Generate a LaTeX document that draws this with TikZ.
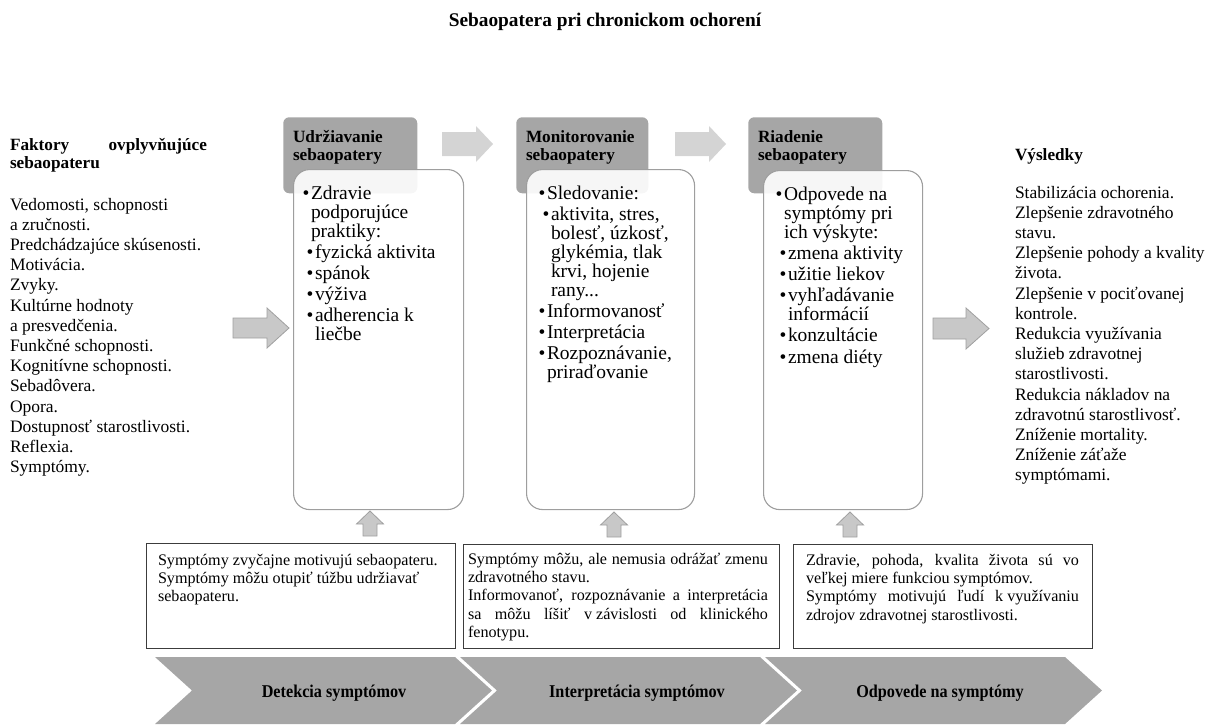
\documentclass[tikz,border=0pt]{standalone}
\usepackage{fontspec}
\setmainfont{Liberation Serif}
\usetikzlibrary{calc}
\newdimen\px \px=0.75pt
\definecolor{hdrgray}{RGB}{166,166,166}
\definecolor{chevgray}{RGB}{166,166,166}
\definecolor{cardline}{RGB}{158,158,158}
\definecolor{arrowfill}{RGB}{200,200,200}
\definecolor{arrowline}{RGB}{160,160,160}
\definecolor{lightarrow}{RGB}{212,212,212}
\definecolor{noteline}{RGB}{60,60,60}

% text sizes (1px = 0.75pt)
\newcommand\fcol{\fontsize{13.1}{15.15}\selectfont\lineskiplimit=-50pt}
\newcommand\fhd{\fontsize{12.9}{13.8}\selectfont\bfseries\lineskiplimit=-50pt}
\newcommand\fcard{\fontsize{14.6}{14.25}\selectfont\lineskiplimit=-50pt\parskip=2.2\px}
\newcommand\fnote{\fontsize{12.1}{13.8}\selectfont\lineskiplimit=-50pt}
% bullet levels inside the cards
\newcommand\lvA[1]{\par\leftskip=0pt\noindent\llap{•\hspace{1.5\px}}#1}
\newcommand\lvB[1]{\par\leftskip=4\px\noindent\llap{•\hspace{1.5\px}}#1}

\tikzset{
  txt/.style={anchor=base west, inner sep=0pt, outer sep=0pt},
  hdrbox/.style={fill=hdrgray, rounded corners=6\px, anchor=north west, inner sep=0pt},
  card/.style={draw=cardline, line width=1.1\px, fill=white, fill opacity=0.9,
               rounded corners=16\px, anchor=north west, inner sep=0pt},
  notebox/.style={draw=noteline, line width=1.1\px, anchor=north west, inner sep=0pt},
  bigarrow/.style={fill=arrowfill, draw=arrowline, line width=0.8\px},
  steparrow/.style={fill=lightarrow},
  uparrow/.style={fill=arrowfill, draw=arrowline, line width=0.8\px},
  chev/.style={fill=chevgray},
  chevtext/.style={anchor=base, inner sep=0pt, font=\fontsize{13.5}{15}\selectfont\bfseries}
}

\begin{document}
\begin{tikzpicture}[x=0.75pt, y=-0.75pt]
\useasboundingbox (0,0) rectangle (1206,726);

% title
\node[anchor=base, inner sep=0pt, font=\fontsize{14.5}{16}\selectfont\bfseries] (title) at (605,26)
  {Sebaopatera pri chronickom ochorení};

% influencing factors
\node[txt] (facthd) at (10,150) {\parbox[t]{197\px}{\fhd Faktory\hfill ovplyvňujúce\\ sebaopateru}};
\node[txt] (factors) at (10,210) {\parbox[t]{220\px}{\fcol
  Vedomosti, schopnosti\\ a zručnosti.\\ Predchádzajúce skúsenosti.\\ Motivácia.\\ Zvyky.\\
  Kultúrne hodnoty\\ a presvedčenia.\\ Funkčné schopnosti.\\ Kognitívne schopnosti.\\
  Sebadôvera.\\ Opora.\\ Dostupnosť starostlivosti.\\ Reflexia.\\ Symptómy.}};

% outcomes
\node[txt] (outhd) at (1015,160) {\parbox[t]{180\px}{\fhd Výsledky}};
\node[txt] (outcomes) at (1015,198) {\parbox[t]{190\px}{\fcol
  Stabilizácia ochorenia.\\ Zlepšenie zdravotného\\ stavu.\\ Zlepšenie pohody a kvality\\
  života.\\ Zlepšenie v pociťovanej\\ kontrole.\\ Redukcia využívania\\ služieb zdravotnej\\
  starostlivosti.\\ Redukcia nákladov na\\ zdravotnú starostlivosť.\\ Zníženie mortality.\\
  Zníženie záťaže\\ symptómami.}};

% header tabs
\node[hdrbox, minimum width=134\px, minimum height=76\px] (h1) at (283,117) {};
\node[hdrbox, minimum width=132\px, minimum height=76\px] (h2) at (516,117) {};
\node[hdrbox, minimum width=134\px, minimum height=76\px] (h3) at (748,117) {};

% cards
\node[card, minimum width=170\px, minimum height=340\px] (c1) at (293,169) {};
\node[card, minimum width=168\px, minimum height=340\px] (c2) at (526,169) {};
\node[card, minimum width=159\px, minimum height=339\px] (c3) at (763,170) {};

% header texts
\node[txt] (h1t) at (293,142) {\parbox[t]{130\px}{\fhd Udržiavanie\\ sebaopatery}};
\node[txt] (h2t) at (526,142) {\parbox[t]{130\px}{\fhd Monitorovanie\\ sebaopatery}};
\node[txt] (h3t) at (758,142) {\parbox[t]{130\px}{\fhd Riadenie\\ sebaopatery}};

% card texts
\node[txt] (c1t) at (311,199) {\parbox[t]{150\px}{\fcard
  \lvA{Zdravie\\ podporujúce\\ praktiky:}
  \lvB{fyzická aktivita}
  \lvB{spánok}
  \lvB{výživa}
  \lvB{adherencia k\\ liečbe}}};
\node[txt] (c2t) at (547,199) {\parbox[t]{150\px}{\fcard
  \lvA{Sledovanie:}
  \lvB{aktivita, stres,\\ bolesť, úzkosť,\\ glykémia, tlak\\ krvi, hojenie\\ rany...}
  \lvA{Informovanosť}
  \lvA{Interpretácia}
  \lvA{Rozpoznávanie,\\ priraďovanie}}};
\node[txt] (c3t) at (784,200) {\parbox[t]{150\px}{\fcard
  \lvA{Odpovede na\\ symptómy pri\\ ich výskyte:}
  \lvB{zmena aktivity}
  \lvB{užitie liekov}
  \lvB{vyhľadávanie\\ informácií}
  \lvB{konzultácie}
  \lvB{zmena diéty}}};

% arrows between the header tabs
\fill[steparrow] (442,132) -- (476,132) -- (476,126) -- (493,144) -- (476,162) -- (476,156) -- (442,156) -- cycle;
\fill[steparrow] (675,132) -- (709,132) -- (709,126) -- (726,144) -- (709,162) -- (709,156) -- (675,156) -- cycle;

% factors -> cards, cards -> outcomes
\draw[bigarrow] (233,318) -- (267,318) -- (267,308) -- (289,328) -- (267,348) -- (267,338) -- (233,338) -- cycle;
\draw[bigarrow] (933,318) -- (966,318) -- (966,308) -- (989,328.5) -- (966,349) -- (966,339) -- (933,339) -- cycle;

% notes below the cards
\node[notebox, minimum width=309\px, minimum height=105\px] (n1) at (146,543) {};
\node[notebox, minimum width=316\px, minimum height=104\px] (n2) at (463,544) {};
\node[notebox, minimum width=299\px, minimum height=104\px] (n3) at (793,544) {};

\node[txt] (n1t) at (158,565) {\parbox[t]{290\px}{\fnote
  Symptómy zvyčajne motivujú sebaopateru.\\ Symptómy môžu otupiť túžbu udržiavať\\ sebaopateru.}};
\node[txt] (n2t) at (468,564) {\parbox[t]{300\px}{\fnote
  Symptómy môžu, ale nemusia odrážať zmenu\linebreak zdravotného stavu.\par
  Informovanoť, rozpoznávanie a interpretácia\linebreak sa môžu líšiť \mbox{v závislosti} od klinického\linebreak fenotypu.}};
\node[txt] (n3t) at (806,565) {\parbox[t]{273\px}{\fnote
  Zdravie, pohoda, kvalita života sú vo\linebreak veľkej miere funkciou symptómov.\par
  Symptómy motivujú ľudí \mbox{k využívaniu}\linebreak zdrojov zdravotnej starostlivosti.}};

% up arrows from notes to cards
\draw[uparrow] (370,511) -- (383.5,524) -- (377,524) -- (377,536) -- (363,536) -- (363,524) -- (356.5,524) -- cycle;
\draw[uparrow] (614,512) -- (627.5,525) -- (621,525) -- (621,537) -- (607,537) -- (607,525) -- (600.5,525) -- cycle;
\draw[uparrow] (850,512) -- (863.5,525) -- (857,525) -- (857,537) -- (843,537) -- (843,525) -- (836.5,525) -- cycle;

% symptom process chevrons
\fill[chev] (155,657) -- (455,657) -- (492,690.5) -- (455,724) -- (155,724) -- (192,690.5) -- cycle;
\fill[chev] (460,657) -- (760,657) -- (797,690.5) -- (760,724) -- (460,724) -- (497,690.5) -- cycle;
\fill[chev] (765,657) -- (1065,657) -- (1102,690.5) -- (1065,724) -- (765,724) -- (802,690.5) -- cycle;
\node[chevtext] (k1) at (334,697) {\scalebox{0.9}[1]{Detekcia symptómov}};
\node[chevtext] (k2) at (637,697) {\scalebox{0.9}[1]{Interpretácia symptómov}};
\node[chevtext] (k3) at (940,697) {\scalebox{0.9}[1]{Odpovede na symptómy}};
\end{tikzpicture}
\end{document}
